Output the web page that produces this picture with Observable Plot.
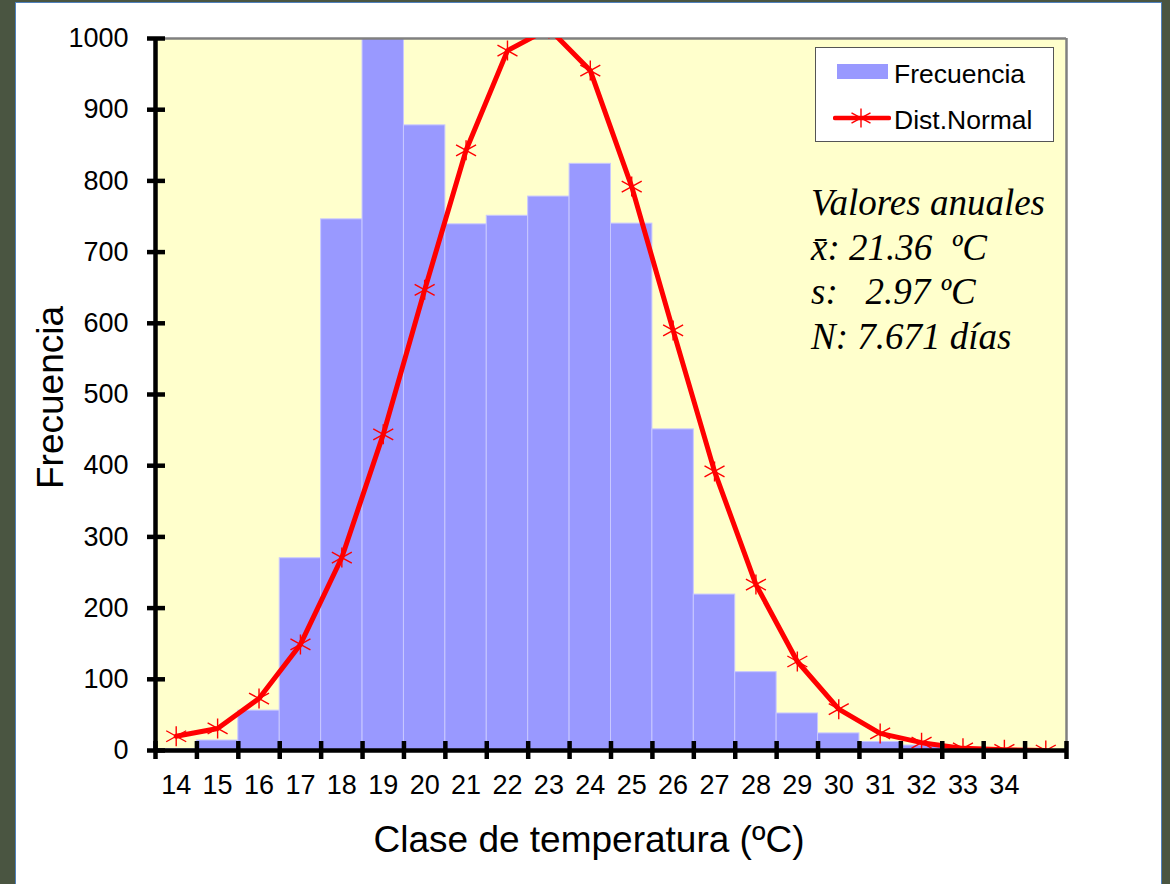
<!DOCTYPE html>
<html>
<head>
<meta charset="utf-8">
<script src="https://cdn.jsdelivr.net/npm/d3@7"></script>
<script src="https://cdn.jsdelivr.net/npm/@observablehq/plot@0.6"></script>
<style>
  html, body { margin: 0; padding: 0; width: 1170px; height: 884px; overflow: hidden; background: #4A5541; }
  #panel { position: absolute; left: 15px; top: 2px; width: 1145px; height: 920px; background: #ffffff; border: 1.5px solid #4F81BD; }
  #chart { position: absolute; left: 0; top: 0; }
  .sans { font-family: "Liberation Sans", Arial, sans-serif; color: #000; }
  #xtitle { position: absolute; left: 339px; width: 500px; top: 821px; font-size: 37px; line-height: 37px; text-align: center; }
  #ytitle { position: absolute; left: -100px; width: 300px; top: 379px; height: 37px; font-size: 37px; line-height: 37px; text-align: center; transform: rotate(-90deg); transform-origin: 50% 50%; }
  #legend { position: absolute; left: 815px; top: 47px; width: 239px; height: 95px; box-sizing: border-box; background: #fff; border: 1px solid #555; }
  #legend .item { position: absolute; left: 78px; font-size: 26.5px; line-height: 26px; white-space: nowrap; }
  #legend .patch { position: absolute; left: 21px; top: 16px; width: 51px; height: 15px; background: #9999FF; }
  #legend svg { position: absolute; left: 17px; top: 58px; }
  #note { position: absolute; left: 811px; top: 181px; font-family: "Liberation Serif", "Times New Roman", serif; font-style: italic; font-size: 37px; line-height: 44.5px; white-space: pre; color: #000; }
</style>
</head>
<body>
<div id="panel"></div>
<div id="chart"></div>
<div id="xtitle" class="sans"></div>
<div id="ytitle" class="sans"></div>
<div id="legend" class="sans"></div>
<div id="note"></div>
<script>
// ---- data ----
const classes = [14, 15, 16, 17, 18, 19, 20, 21, 22, 23, 24, 25, 26, 27, 28, 29, 30, 31, 32, 33, 34, 35];
const classLabels = ["14","15","16","17","18","19","20","21","22","23","24","25","26","27","28","29","30","31","32","33","34",""];
const frecuencia = [2, 14, 56, 270, 746, 1000, 878, 739, 751, 778, 824, 740, 451, 219, 110, 52, 24, 12, 7, 0, 0, 0];
const distNormal = [20, 31, 73, 149, 271, 444, 647, 843, 983, 1014, 955, 792, 590, 392, 233, 125, 58, 24, 11, 3, 1, 0];
const yTicks = [0, 100, 200, 300, 400, 500, 600, 700, 800, 900, 1000];
const xTitle = "Clase de temperatura (ºC)";
const yTitle = "Frecuencia";
const legendLabels = ["Frecuencia", "Dist.Normal"];
const noteLines = ["Valores anuales", "x\u0304: 21.36  ºC", "s:   2.97 ºC", "N: 7.671 días"];

// ---- derived table ----
const table = classes.map((c, i) => ({c, label: classLabels[i], freq: frecuencia[i], normal: distNormal[i]}));
const edges = [classes[0] - 0.5, ...classes.map(c => c + 0.5)];
const labelMap = new Map(table.map(d => [d.c, d.label]));
const labeled = table.filter(d => d.label !== "").map(d => d.c);

// Excel-like star marker
const star = {
  draw(ctx, size) {
    const r = Math.sqrt(size / Math.PI);
    ctx.moveTo(0, -r); ctx.lineTo(0, r);
    ctx.moveTo(-r, -0.55 * r); ctx.lineTo(r, 0.55 * r);
    ctx.moveTo(-r, 0.55 * r); ctx.lineTo(r, -0.55 * r);
  }
};

const chart = Plot.plot({
  width: 1170,
  height: 884,
  marginLeft: 155,
  marginRight: 104,
  marginTop: 38,
  marginBottom: 134,
  style: { background: "none", fontFamily: "'Liberation Sans', Arial, sans-serif", color: "#000", overflow: "visible" },
  x: { type: "linear", domain: [edges[0], edges[edges.length - 1]] },
  y: { domain: [0, 1000] },
  marks: [
    Plot.frame({ fill: "#FFFFCC", stroke: "none" }),
    Plot.rectY(table, { x1: d => d.c - 0.5, x2: d => d.c + 0.5, y: "freq", fill: "#9999FF", stroke: "#C8C8FF", strokeWidth: 1, clip: true }),
    Plot.ruleY([yTicks[yTicks.length - 1]], { stroke: "#808080", strokeWidth: 2.5 }),
    Plot.ruleX([edges[edges.length - 1]], { stroke: "#808080", strokeWidth: 2.5 }),
    Plot.line(table, { x: "c", y: "normal", stroke: "#FF0000", strokeWidth: 5, strokeLinejoin: "round", clip: true }),
    Plot.dot(table, { x: "c", y: "normal", symbol: star, r: 10, stroke: "#FF0000", strokeWidth: 1.4, fill: "none", clip: true }),
    Plot.ruleX([edges[0]], { stroke: "#000", strokeWidth: 4.5 }),
    Plot.ruleY([0], { stroke: "#000", strokeWidth: 4.5 }),
    // crossing tick marks
    Plot.axisY({ ticks: yTicks, tickSize: 18, dx: 10, tickFormat: () => "", label: null, strokeWidth: 4.5 }),
    Plot.axisX({ ticks: edges, tickSize: 18, dy: -9, tickFormat: () => "", label: null, strokeWidth: 4.5 }),
    // tick labels
    Plot.axisY({ ticks: yTicks, tickSize: 0, tickPadding: 27, tickFormat: d => String(d), label: null, fontSize: 27 }),
    Plot.axisX({ ticks: labeled, tickSize: 0, tickPadding: 24, tickFormat: d => labelMap.get(d), label: null, fontSize: 27 })
  ]
});
document.getElementById("chart").appendChild(chart);

document.getElementById("xtitle").textContent = xTitle;
document.getElementById("ytitle").textContent = yTitle;

const legend = document.getElementById("legend");
legend.innerHTML =
  `<div class="patch"></div>` +
  `<div class="item" style="top:13px">${legendLabels[0]}</div>` +
  `<svg width="58" height="24" viewBox="0 0 58 24">
     <line x1="2" y1="12" x2="56" y2="12" stroke="#FF0000" stroke-width="4.5" stroke-linecap="round"/>
     <path d="M28,2.5 V21.5 M18.5,6.8 L37.5,17.2 M18.5,17.2 L37.5,6.8" stroke="#FF0000" stroke-width="1.4" fill="none"/>
   </svg>` +
  `<div class="item" style="top:59px">${legendLabels[1]}</div>`;

document.getElementById("note").textContent = noteLines.join("\n");
</script>
</body>
</html>
